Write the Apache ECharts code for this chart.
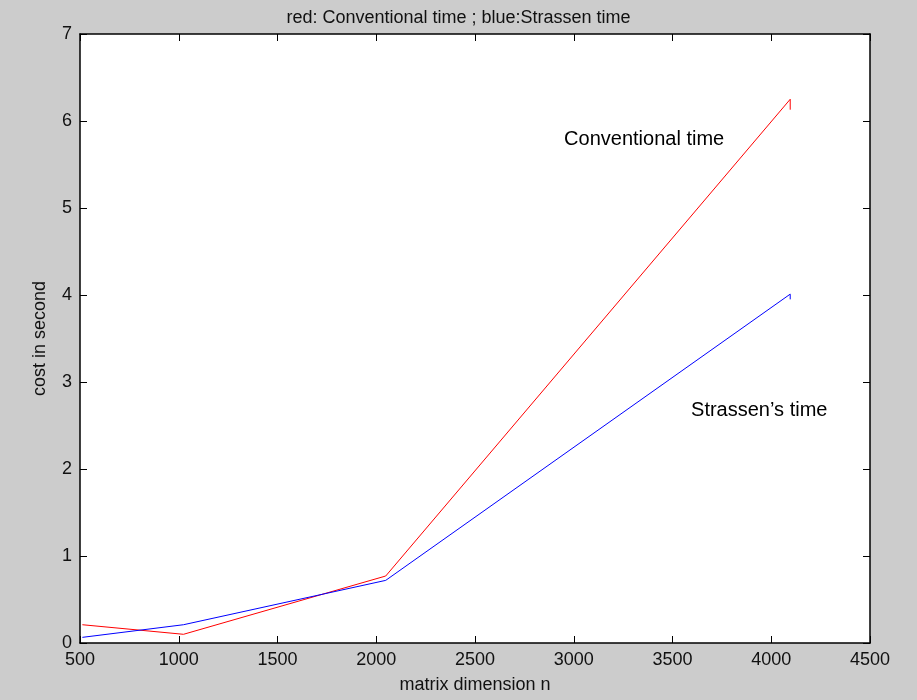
<!DOCTYPE html>
<html>
<head>
<meta charset="utf-8">
<script src="https://cdn.jsdelivr.net/npm/echarts@6/dist/echarts.min.js"></script>
<style>
  html, body { margin: 0; padding: 0; background: #cccccc; }
  #chart { width: 917px; height: 700px; }
</style>
</head>
<body>
<div id="chart"></div>
<script>
// matrix sizes, last point repeated (matlab leaves a small hook there)
var sizes = [512, 1024, 2048, 4096, 4096]
var conventional = [0.21, 0.10, 0.77, 6.25, 6.13]
var strassen = [0.065, 0.21, 0.72, 4.01, 3.95]
var xTicks = [500, 4500, 500]   // min, max, step
var yTicks = [0, 7, 1]
var notes = [
  { text: 'Conventional time', x: 2951, y: 5.79 },
  { text: 'Strassen\u2019s time', x: 3594, y: 2.675 }
]

var font = '"Liberation Sans", Arial, sans-serif'

function pairs(xs, ys) {
  var out = []
  for (var i = 0; i < xs.length; i++) {
    out.push([xs[i], ys[i]])
  }
  return out
}

function axisBase(pos, range, showLabels) {
  return {
    type: 'value',
    position: pos,
    min: range[0],
    max: range[1],
    interval: range[2],
    splitLine: { show: false },
    axisLine: { show: true, onZero: false, lineStyle: { color: '#000', width: 1.5 } },
    axisTick: { show: true, inside: true, length: 7, lineStyle: { color: '#000', width: 1 } },
    axisLabel: {
      show: showLabels,
      color: '#111',
      fontFamily: font,
      fontSize: 18,
      margin: 8,
      formatter: function (v) { return String(v) }
    }
  }
}

var chart = echarts.init(document.getElementById('chart'))

var xMain = axisBase('bottom', xTicks, true)
xMain.name = 'matrix dimension n'
xMain.nameLocation = 'middle'
xMain.nameGap = 33
xMain.nameTextStyle = { color: '#111', fontFamily: font, fontSize: 18 }

var yMain = axisBase('left', yTicks, true)
yMain.name = 'cost in second'
yMain.nameLocation = 'middle'
yMain.nameGap = 31
yMain.nameTextStyle = { color: '#111', fontFamily: font, fontSize: 18 }

chart.setOption({
  backgroundColor: '#cccccc',
  animation: false,
  title: {
    text: 'red: Conventional time ; blue:Strassen time',
    left: 'center',
    top: 4,
    textStyle: { color: '#111', fontFamily: font, fontSize: 18, fontWeight: 'normal' }
  },
  grid: {
    left: 80,
    right: 47,
    top: 34,
    bottom: 57,
    containLabel: false,
    outerBoundsMode: 'none',
    show: true,
    backgroundColor: '#ffffff',
    borderWidth: 0
  },
  xAxis: [xMain, axisBase('top', xTicks, false)],
  yAxis: [yMain, axisBase('right', yTicks, false)],
  series: [
    {
      name: 'Conventional',
      type: 'line',
      data: pairs(sizes, conventional),
      showSymbol: false,
      lineStyle: { color: '#ff0000', width: 1 },
      itemStyle: { color: '#ff0000' }
    },
    {
      name: 'Strassen',
      type: 'line',
      data: pairs(sizes, strassen),
      showSymbol: false,
      lineStyle: { color: '#0000ff', width: 1 },
      itemStyle: { color: '#0000ff' }
    },
    {
      name: 'notes',
      type: 'scatter',
      silent: true,
      symbolSize: 0,
      itemStyle: { opacity: 1 },
      data: notes.map(function (n) {
        return { value: [n.x, n.y], label: { formatter: n.text } }
      }),
      label: {
        show: true,
        position: 'right',
        distance: 0,
        color: '#000',
        fontFamily: font,
        fontSize: 20
      }
    }
  ]
})
</script>
</body>
</html>
